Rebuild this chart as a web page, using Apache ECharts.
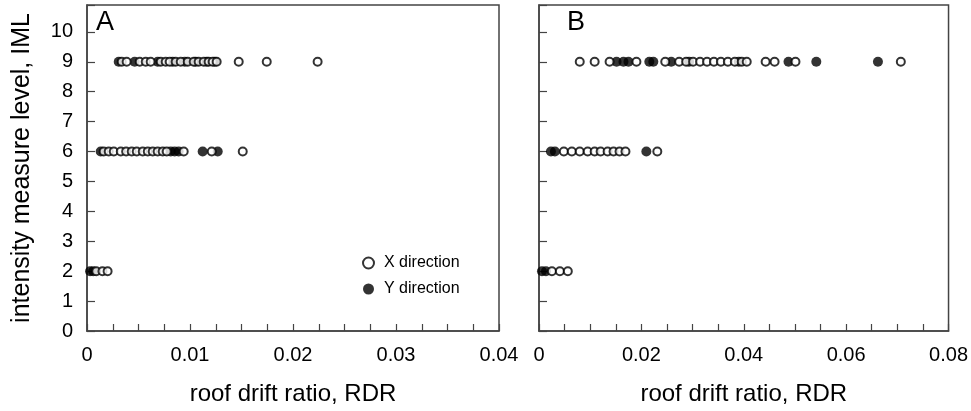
<!DOCTYPE html>
<html>
<head>
<meta charset="utf-8">
<script src="https://cdn.jsdelivr.net/npm/echarts@6/dist/echarts.min.js"></script>
<style>
html,body{margin:0;padding:0;background:#fff;}
#chart{width:971px;height:411px;}
</style>
</head>
<body>
<div id="chart"></div>
<script>
// ---- Data (roof drift ratio values at each intensity measure level) ----
// Panel A
const aX2 = [0.0009, 0.0015, 0.0020];
const aY2 = [0.0003, 0.0006];
const aX6 = [0.00162, 0.00211, 0.0026, 0.00328, 0.0038, 0.00434, 0.00483, 0.00541, 0.0059, 0.00638, 0.00686, 0.00735, 0.00774, 0.00939, 0.01211, 0.01512];
const aY6 = [0.00133, 0.00813, 0.00851, 0.0089, 0.01123, 0.01269];
const aX9 = [0.00337, 0.00385, 0.00512, 0.0057, 0.00618, 0.00716, 0.00764, 0.00803, 0.00861, 0.0091, 0.00978, 0.01036, 0.01084, 0.01133, 0.01181, 0.0122, 0.01259, 0.01473, 0.01745, 0.02239];
const aY9 = [0.00308, 0.00463, 0.00686, 0.00832, 0.00949, 0.01055, 0.01162, 0.0124];
// Panel B
const bX2 = [0.00252, 0.00408, 0.00563];
const bY2 = [0.00058, 0.00136];
const bX6 = [0.00485, 0.00641, 0.00796, 0.00951, 0.01087, 0.01204, 0.0134, 0.01456, 0.01573, 0.01689, 0.02311];
const bY6 = [0.00233, 0.00311, 0.02097];
const bX9 = [0.00796, 0.01087, 0.01379, 0.01903, 0.02466, 0.02738, 0.02874, 0.0301, 0.03146, 0.03282, 0.03417, 0.03553, 0.03689, 0.03825, 0.03961, 0.04058, 0.04427, 0.04602, 0.0501, 0.07068];
const bY9 = [0.01515, 0.0165, 0.01748, 0.02155, 0.02233, 0.02583, 0.02932, 0.03903, 0.04874, 0.05417, 0.06621];

const imlLevels = [2, 6, 9];
const seriesNames = ['X direction', 'Y direction'];
const panelLabels = ['A', 'B'];
const xTitle = 'roof drift ratio, RDR';
const yTitle = 'intensity measure level, IML';

// ---- Build ----
function pts(groups) {
  const out = [];
  groups.forEach((arr, i) => arr.forEach(v => out.push([v, imlLevels[i]])));
  return out;
}

const FONT = '"Liberation Sans", Arial, sans-serif';
const INK = '#000';
const LINE = '#444';

function xAxisCfg(gi, max, interval) {
  return {
    gridIndex: gi, type: 'value', min: 0, max: max, interval: interval,
    axisLine: {show: true, onZero: false, lineStyle: {color: LINE, width: 1.5}},
    axisTick: {show: true, inside: true, length: 7, lineStyle: {color: LINE, width: 1.2}},
    minorTick: {show: true, splitNumber: 4, length: 7, lineStyle: {color: LINE, width: 1.2}},
    splitLine: {show: false},
    axisLabel: {fontSize: 20, color: INK, margin: 14, fontFamily: FONT,
      formatter: v => (v === 0 ? '0' : String(+v.toFixed(4)))},
    name: xTitle, nameLocation: 'middle', nameGap: 51,
    nameTextStyle: {fontSize: 24, color: INK, fontFamily: FONT}
  };
}
function yAxisCfg(gi, showLabels) {
  return {
    gridIndex: gi, type: 'value', min: 0, max: 10.9, interval: 1,
    axisLine: {show: true, onZero: false, lineStyle: {color: LINE, width: 1.5}},
    axisTick: {show: true, inside: true, length: 8, lineStyle: {color: LINE, width: 1.2}},
    splitLine: {show: false},
    axisLabel: {show: showLabels, fontSize: 20, color: INK, margin: 14, fontFamily: FONT,
      formatter: v => (Number.isInteger(v) ? String(v) : '')},
    name: showLabels ? yTitle : '', nameLocation: 'middle', nameGap: 52,
    nameTextStyle: {fontSize: 25, color: INK, fontFamily: FONT}
  };
}

const openStyle = {color: '#fff', borderColor: '#000', borderWidth: 2};
const fillStyle = {color: '#000', borderColor: '#000', borderWidth: 0};

function sc(name, xi, data, open) {
  return {
    name: name, type: 'scatter', xAxisIndex: xi, yAxisIndex: xi,
    symbol: 'circle', symbolSize: open ? 8 : 10,
    itemStyle: open ? openStyle : fillStyle,
    data: data, clip: false, z: open ? 3 : 2
  };
}

const chart = echarts.init(document.getElementById('chart'), null, {renderer: 'canvas'});
chart.setOption({
  animation: false,
  backgroundColor: '#fff',
  textStyle: {fontFamily: FONT},
  grid: [
    {left: 87, top: 5, width: 412, height: 328, show: true, borderColor: LINE, borderWidth: 1.5, containLabel: false},
    {left: 539, top: 5, width: 412, height: 328, show: true, borderColor: LINE, borderWidth: 1.5, containLabel: false}
  ],
  xAxis: [xAxisCfg(0, 0.04, 0.01), xAxisCfg(1, 0.08, 0.02)],
  yAxis: [yAxisCfg(0, true), yAxisCfg(1, false)],
  legend: {
    orient: 'vertical', left: 362, top: 255, padding: 0,
    itemWidth: 21, itemHeight: 11, itemGap: 10,
    textStyle: {fontSize: 16, color: INK, fontFamily: FONT},
    data: [
      {name: seriesNames[0], icon: 'circle', itemStyle: {color: '#fff', borderColor: '#000', borderWidth: 2}},
      {name: seriesNames[1], icon: 'circle', itemStyle: {color: '#000', borderWidth: 0}}
    ]
  },
  graphic: [
    {type: 'text', left: 96, top: 9, style: {text: panelLabels[0], fontSize: 27, fill: INK, fontFamily: FONT}},
    {type: 'text', left: 567, top: 9, style: {text: panelLabels[1], fontSize: 27, fill: INK, fontFamily: FONT}}
  ],
  series: [
    sc(seriesNames[1], 0, pts([aY2, aY6, aY9]), false),
    sc(seriesNames[0], 0, pts([aX2, aX6, aX9]), true),
    sc(seriesNames[1], 1, pts([bY2, bY6, bY9]), false),
    sc(seriesNames[0], 1, pts([bX2, bX6, bX9]), true)
  ]
});
</script>
</body>
</html>
